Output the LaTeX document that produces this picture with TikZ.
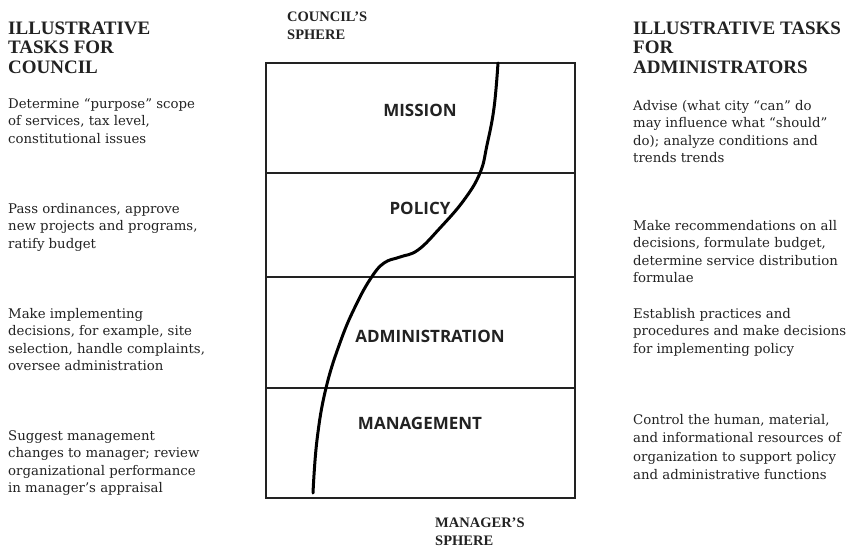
\documentclass[tikz,border=0pt]{standalone}
\usepackage{fontspec}
\setmainfont{DejaVu Serif}
\newfontfamily\headfont{Liberation Serif}
\newfontfamily\labfont{Open Sans}
\definecolor{ink}{HTML}{222222}
\begin{document}
\begin{tikzpicture}[x=1pt,y=-1pt,
 head/.style={anchor=base west, inner sep=0, align=left, font=\headfont\bfseries\fontsize{19}{19.5}\selectfont, text=ink},
 body/.style={anchor=base west, inner sep=0, align=left, font=\fontsize{13.3}{17.3}\selectfont, text=ink},
 spherelab/.style={anchor=base west, inner sep=0, align=left, font=\headfont\bfseries\fontsize{14.5}{18}\selectfont, text=ink},
 lab/.style={inner sep=0, font=\labfont\bfseries\fontsize{17}{17}\selectfont, text=ink},
 frame/.style={draw=ink, line width=1.4pt},
 sline/.style={draw=black, line width=3pt, line cap=round}]
\useasboundingbox (0,0) rectangle (847,547);
% frame
\draw[frame] (266,63) rectangle (575,498);
\draw[frame] (266,173) -- (575,173);
\draw[frame] (266,277) -- (575,277);
\draw[frame] (266,388) -- (575,388);
% row labels
\node[lab] (mission) at (420,110) {MISSION};
\node[lab] (policy) at (420,208) {POLICY};
\node[lab] (admin) at (430,336) {ADMINISTRATION};
\node[lab] (mgmt) at (420,423) {MANAGEMENT};
% curve
\draw[sline] plot[smooth, tension=0.7] coordinates {(498,63) (494,108) (487,145) (480,173) (464,200) (440,228) (418,250) (400,257) (384,263) (371,278) (356,305) (341,340) (326,388) (317,440) (313,493)};
% sphere labels (base = last line)
\node[spherelab] (cs) at (287,39.5) {COUNCIL’S\\SPHERE};
\node[spherelab] (ms) at (435,545) {MANAGER’S\\SPHERE};
% left column
\node[head] (lh) at (8,73) {ILLUSTRATIVE\\TASKS FOR\\COUNCIL};
\node[body] (l1) at (8,143.1) {Determine “purpose” scope\\of services, tax level,\\constitutional issues};
\node[body] (l2) at (8,248.1) {Pass ordinances, approve\\new projects and programs,\\ratify budget};
\node[body] (l3) at (8,370.4) {Make implementing\\decisions, for example, site\\selection, handle complaints,\\oversee administration};
\node[body] (l4) at (8,492.4) {Suggest management\\changes to manager; review\\organizational performance\\in manager’s appraisal};
% right column
\node[head] (rh) at (633,73) {ILLUSTRATIVE TASKS\\FOR\\ADMINISTRATORS};
\node[body] (r1) at (633,162.4) {Advise (what city “can” do\\may influence what “should”\\do); analyze conditions and\\trends trends};
\node[body] (r2) at (633,282.4) {Make recommendations on all\\decisions, formulate budget,\\determine service distribution\\formulae};
\node[body] (r3) at (633,353.1) {Establish practices and\\procedures and make decisions\\for implementing policy};
\node[body, font=\fontsize{13.3}{18.5}\selectfont] (r4) at (633,479.5) {Control the human, material,\\and informational resources of\\organization to support policy\\and administrative functions};
\end{tikzpicture}
\end{document}
